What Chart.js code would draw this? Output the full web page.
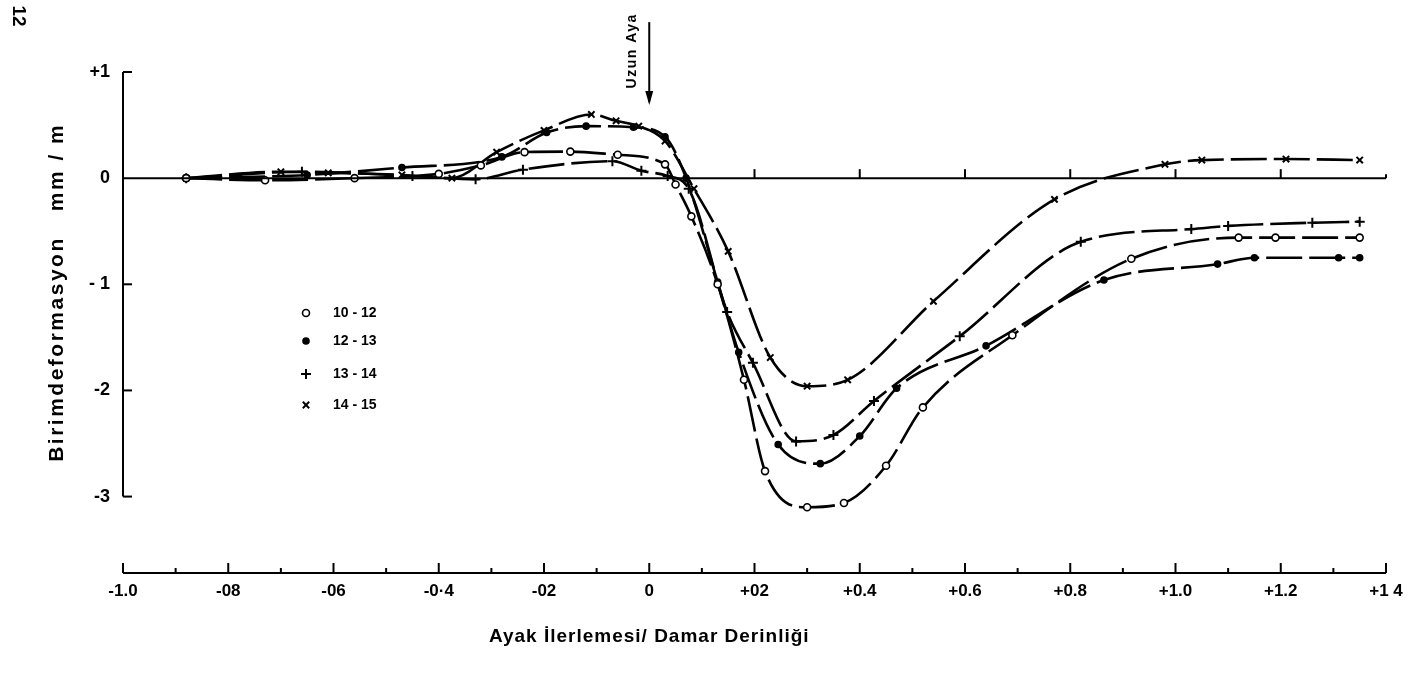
<!DOCTYPE html>
<html>
<head>
<meta charset="utf-8">
<script src="https://cdn.jsdelivr.net/npm/chart.js@4.4.0/dist/chart.umd.min.js"></script>
<style>
  html, body { margin: 0; padding: 0; background: #fff; }
  #wrap { width: 1411px; height: 684px; position: relative; }
</style>
</head>
<body>
<div id="wrap"><canvas id="chart"></canvas></div>
<script>
// legend labels (hour ranges)
const seriesLabels = ['10 - 12', '12 - 13', '13 - 14', '14 - 15'];

// axis ticks
const xTickValues = [-1.0, -0.8, -0.6, -0.4, -0.2, 0, 0.2, 0.4, 0.6, 0.8, 1.0, 1.2, 1.4];
const xTickLabels = ['-1.0', '-08', '-06', '-0·4', '-02', '0', '+02', '+0.4', '+0.6', '+0.8', '+1.0', '+1.2', '+1 4'];
const yTickValues = [-3, -2, -1, 0, 1];
const yTickLabels = ['-3', '-2', '- 1', '0', '+1'];

// 10 - 12 (open circles)
const x1012 = [-0.88, -0.73, -0.56, -0.40, -0.32, -0.237, -0.15, -0.06, 0.03, 0.05, 0.08, 0.13, 0.18, 0.22, 0.30, 0.37, 0.45, 0.52, 0.69, 0.916, 1.12, 1.19, 1.35];
const y1012 = [0, -0.02, 0, 0.04, 0.12, 0.245, 0.25, 0.22, 0.13, -0.06, -0.36, -1.0, -1.9, -2.76, -3.10, -3.06, -2.71, -2.16, -1.48, -0.76, -0.56, -0.56, -0.56];

// 12 - 13 (filled dots)
const x1213 = [-0.88, -0.78, -0.65, -0.47, -0.28, -0.195, -0.12, -0.03, 0.03, 0.07, 0.13, 0.17, 0.245, 0.325, 0.40, 0.47, 0.64, 0.864, 1.08, 1.15, 1.31, 1.35];
const y1213 = [0, 0.01, 0.03, 0.10, 0.20, 0.43, 0.49, 0.48, 0.39, 0, -0.98, -1.64, -2.51, -2.69, -2.43, -1.98, -1.58, -0.96, -0.81, -0.75, -0.75, -0.75];

// 13 - 14 (plus)
const x1314 = [-0.88, -0.66, -0.45, -0.33, -0.24, -0.07, -0.015, 0.035, 0.075, 0.148, 0.197, 0.279, 0.35, 0.427, 0.59, 0.82, 1.03, 1.10, 1.26, 1.35];
const y1314 = [0, 0.06, 0.02, -0.01, 0.08, 0.16, 0.07, 0.02, -0.10, -1.26, -1.74, -2.48, -2.42, -2.10, -1.49, -0.60, -0.48, -0.45, -0.42, -0.41];

// 14 - 15 (crosses)
const x1415 = [-0.88, -0.70, -0.61, -0.47, -0.375, -0.29, -0.20, -0.11, -0.063, -0.02, 0.03, 0.085, 0.15, 0.23, 0.30, 0.377, 0.54, 0.77, 0.98, 1.05, 1.21, 1.35];
const y1415 = [0, 0.06, 0.05, 0.03, 0.0, 0.245, 0.45, 0.60, 0.54, 0.49, 0.35, -0.10, -0.69, -1.69, -1.96, -1.90, -1.16, -0.20, 0.13, 0.17, 0.18, 0.17];

const FONT = '"Liberation Sans", Arial, sans-serif';

function pts(xs, ys) {
  return xs.map((x, i) => ({x: x, y: ys[i]}));
}

function makeSet(label, xs, ys, style, radius, bg) {
  return {
    label: label,
    data: pts(xs, ys),
    borderColor: '#000',
    borderWidth: 2.6,
    borderDash: [36, 7],
    pointStyle: style,
    pointRadius: radius,
    pointBorderWidth: style == 'circle' ? 1.6 : 2,
    pointBorderColor: '#000',
    pointBackgroundColor: bg,
    fill: false,
    tension: 0.4,
    cubicInterpolationMode: 'monotone'
  };
}

const datasets = [
  makeSet(seriesLabels[0], x1012, y1012, 'circle', 3.5, '#fff'),
  makeSet(seriesLabels[1], x1213, y1213, 'circle', 3, '#000'),
  makeSet(seriesLabels[2], x1314, y1314, 'cross', 5, '#000'),
  makeSet(seriesLabels[3], x1415, y1415, 'crossRot', 4.5, '#000')
];

// axes, zero line, arrow, titles, legend drawn by hand
const decorations = {
  id: 'decorations',
  afterDraw(chart) {
    const ctx = chart.ctx;
    const xs = chart.scales.x, ys = chart.scales.y;
    const area = chart.chartArea;
    const X = v => xs.getPixelForValue(v);
    const Y = v => ys.getPixelForValue(v);
    ctx.save();
    ctx.strokeStyle = '#000';
    ctx.fillStyle = '#000';
    ctx.lineCap = 'butt';

    // left axis (only +1 .. -3)
    ctx.lineWidth = 2;
    ctx.beginPath();
    ctx.moveTo(area.left, Y(1));
    ctx.lineTo(area.left, Y(-3));
    ctx.stroke();
    yTickValues.forEach(v => {
      if (v === 0) return;
      ctx.beginPath();
      ctx.moveTo(area.left, Y(v));
      ctx.lineTo(area.left + 9, Y(v));
      ctx.stroke();
    });

    // zero line
    ctx.beginPath();
    ctx.moveTo(area.left, Y(0));
    ctx.lineTo(X(1.4), Y(0));
    ctx.stroke();
    [0.2, 0.4, 0.6, 0.8, 1.0, 1.2].forEach(v => {
      ctx.beginPath();
      ctx.moveTo(X(v), Y(0));
      ctx.lineTo(X(v), Y(0) - 9);
      ctx.stroke();
    });
    ctx.beginPath();
    ctx.moveTo(X(1.4), Y(0));
    ctx.lineTo(X(1.4), Y(0) - 4);
    ctx.stroke();

    // bottom axis
    const by = area.bottom;
    ctx.beginPath();
    ctx.moveTo(X(-1.0), by);
    ctx.lineTo(X(1.4), by);
    ctx.stroke();
    for (let i = 0; i <= 24; i++) {
      const v = -1.0 + i * 0.1;
      const h = (i % 2 === 0) ? 10 : 5;
      ctx.beginPath();
      ctx.moveTo(X(v), by);
      ctx.lineTo(X(v), by - h);
      ctx.stroke();
    }

    // arrow "Uzun Aya"
    const ax = X(0);
    ctx.lineWidth = 2;
    ctx.beginPath();
    ctx.moveTo(ax, Y(1.47));
    ctx.lineTo(ax, Y(0.72));
    ctx.stroke();
    ctx.beginPath();
    ctx.moveTo(ax, Y(0.69));
    ctx.lineTo(ax - 4, Y(0.82));
    ctx.lineTo(ax + 4, Y(0.82));
    ctx.closePath();
    ctx.fill();
    ctx.save();
    ctx.translate(ax - 17, Y(1.2));
    ctx.rotate(-Math.PI / 2);
    ctx.font = 'bold 14px ' + FONT;
    ctx.letterSpacing = '1.5px';
    ctx.textAlign = 'center';
    ctx.textBaseline = 'middle';
    ctx.fillText('Uzun Aya', 0, 0);
    ctx.restore();

    // y title
    ctx.save();
    ctx.translate(57, (Y(1) + Y(-3)) / 2 + 8);
    ctx.rotate(-Math.PI / 2);
    ctx.font = 'bold 21px ' + FONT;
    ctx.letterSpacing = '2.5px';
    ctx.textAlign = 'center';
    ctx.textBaseline = 'middle';
    ctx.fillText('Birimdeformasyon   mm / m', 0, 0);
    ctx.restore();

    // x title
    ctx.save();
    ctx.font = 'bold 19px ' + FONT;
    ctx.letterSpacing = '1px';
    ctx.textAlign = 'center';
    ctx.textBaseline = 'middle';
    ctx.fillText('Ayak İlerlemesi/ Damar Derinliği', X(0), 637);
    ctx.restore();

    // page number
    ctx.save();
    ctx.translate(18, 16);
    ctx.rotate(Math.PI / 2);
    ctx.font = 'bold 19px ' + FONT;
    ctx.textAlign = 'center';
    ctx.textBaseline = 'middle';
    ctx.fillText('12', 0, 0);
    ctx.restore();

    // legend
    const lx = 306, ly0 = 313, gaps = [0, 28, 61, 92];
    ctx.font = 'bold 14px ' + FONT;
    ctx.textAlign = 'left';
    ctx.textBaseline = 'middle';
    chart.data.datasets.forEach((ds, i) => {
      const y = ly0 + gaps[i];
      ctx.lineWidth = ds.pointBorderWidth;
      ctx.fillStyle = ds.pointBackgroundColor;
      ctx.strokeStyle = '#000';
      Chart.helpers.drawPoint(ctx, {pointStyle: ds.pointStyle, radius: ds.pointRadius, borderWidth: ds.pointBorderWidth, rotation: 0}, lx, y);
      ctx.fillStyle = '#000';
      ctx.fillText(ds.label, lx + 27, y);
    });
    ctx.restore();
  }
};

new Chart(document.getElementById('chart'), {
  type: 'line',
  data: { datasets: datasets },
  options: {
    responsive: true,
    maintainAspectRatio: false,
    animation: false,
    devicePixelRatio: 1,
    layout: { padding: { top: 72, right: 25, left: 0, bottom: 0 } },
    plugins: { legend: { display: false }, tooltip: { enabled: false } },
    scales: {
      x: {
        type: 'linear',
        min: -1.0,
        max: 1.4,
        grid: { display: false, drawTicks: false },
        border: { display: false },
        afterBuildTicks: s => { s.ticks = xTickValues.map(v => ({ value: v })); },
        afterFit: s => { s.height = 111; },
        ticks: {
          color: '#000',
          padding: 8,
          maxRotation: 0,
          autoSkip: false,
          font: { family: FONT, size: 17, weight: 'bold' },
          callback: (v, i) => xTickLabels[i]
        }
      },
      y: {
        type: 'linear',
        min: -3.72,
        max: 1,
        grid: { display: false, drawTicks: false },
        border: { display: false },
        afterBuildTicks: s => { s.ticks = yTickValues.map(v => ({ value: v })); },
        afterFit: s => { s.width = 123; },
        ticks: {
          color: '#000',
          padding: 13,
          autoSkip: false,
          font: { family: FONT, size: 18, weight: 'bold' },
          callback: (v, i) => yTickLabels[i]
        }
      }
    }
  },
  plugins: [decorations]
});
</script>
</body>
</html>
